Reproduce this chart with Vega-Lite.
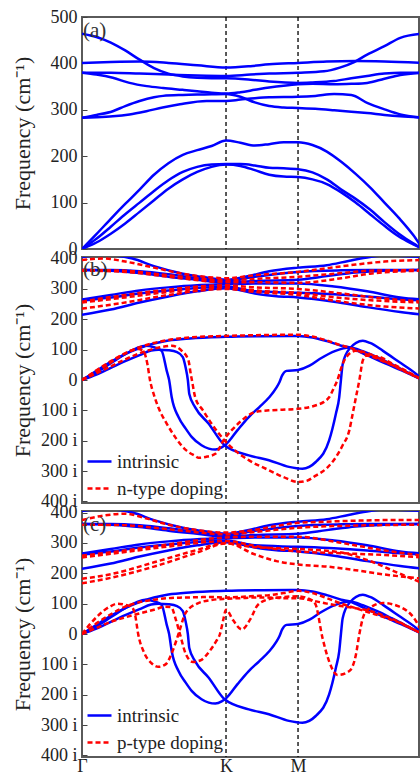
{
"$schema":"https://vega.github.io/schema/vega-lite/v6.json",
"background":"white",
"padding":{"left":10,"top":7,"right":0,"bottom":0},
"bounds":"flush",
"spacing":8,
"config":{
"font":"Liberation Serif",
"view":{"stroke":"#5a5a5a","strokeWidth":2},
"axis":{"labelFont":"Liberation Serif","titleFont":"Liberation Serif","labelFontSize":18,"titleFontSize":22,"titleFontWeight":"normal","labelColor":"#222","titleColor":"#222","domain":false,"grid":false,"tickColor":"#444","tickSize":-5,"labelPadding":10,"minExtent":45,"maxExtent":45,"titlePadding":3,"labelOverlap":false,"labelFlush":false},
"axisY":{"labelOverlap":false},
"axisLeft":{"labelOverlap":false},
"axisQuantitative":{"labelOverlap":false},
"legend":{"orient":"bottom-left","offset":4,"labelFont":"Liberation Serif","labelFontSize":19,"labelColor":"#222","symbolType":"stroke","symbolSize":576,"symbolStrokeWidth":2.5,"rowPadding":3,"padding":0,"labelOffset":4}
},
"datasets":{
"a":[
{"k":1,"x":0,"y":0},{"k":1,"x":0.1,"y":32},{"k":1,"x":0.2,"y":65},{"k":1,"x":0.3,"y":97},{"k":1,"x":0.4,"y":128},{"k":1,"x":0.5,"y":160},{"k":1,"x":0.6,"y":185},{"k":1,"x":0.7,"y":203},{"k":1,"x":0.8,"y":213},{"k":1,"x":0.9,"y":222},{"k":1,"x":1,"y":234},{"k":1,"x":1.1,"y":229},{"k":1,"x":1.2,"y":223},{"k":1,"x":1.3,"y":226},{"k":1,"x":1.4,"y":230},{"k":1,"x":1.5,"y":230},{"k":1,"x":1.6,"y":224},{"k":1,"x":1.7,"y":210},{"k":1,"x":1.8,"y":188},{"k":1,"x":1.9,"y":162},{"k":1,"x":2,"y":133},{"k":1,"x":2.1,"y":100},{"k":1,"x":2.2,"y":67},{"k":1,"x":2.3,"y":30},{"k":1,"x":2.366,"y":0},
{"k":2,"x":0,"y":0},{"k":2,"x":0.1,"y":22},{"k":2,"x":0.2,"y":48},{"k":2,"x":0.3,"y":75},{"k":2,"x":0.4,"y":100},{"k":2,"x":0.5,"y":125},{"k":2,"x":0.6,"y":148},{"k":2,"x":0.7,"y":166},{"k":2,"x":0.8,"y":177},{"k":2,"x":0.9,"y":182},{"k":2,"x":1,"y":183},{"k":2,"x":1.1,"y":183},{"k":2,"x":1.2,"y":180},{"k":2,"x":1.3,"y":175},{"k":2,"x":1.4,"y":174},{"k":2,"x":1.5,"y":172},{"k":2,"x":1.6,"y":165},{"k":2,"x":1.7,"y":150},{"k":2,"x":1.8,"y":128},{"k":2,"x":1.9,"y":108},{"k":2,"x":2,"y":85},{"k":2,"x":2.1,"y":58},{"k":2,"x":2.2,"y":33},{"k":2,"x":2.3,"y":12},{"k":2,"x":2.366,"y":0},
{"k":3,"x":0,"y":0},{"k":3,"x":0.1,"y":14},{"k":3,"x":0.2,"y":33},{"k":3,"x":0.3,"y":55},{"k":3,"x":0.4,"y":80},{"k":3,"x":0.5,"y":105},{"k":3,"x":0.6,"y":130},{"k":3,"x":0.7,"y":150},{"k":3,"x":0.8,"y":166},{"k":3,"x":0.9,"y":177},{"k":3,"x":1,"y":182},{"k":3,"x":1.1,"y":179},{"k":3,"x":1.2,"y":170},{"k":3,"x":1.3,"y":160},{"k":3,"x":1.4,"y":156},{"k":3,"x":1.5,"y":155},{"k":3,"x":1.6,"y":150},{"k":3,"x":1.7,"y":140},{"k":3,"x":1.8,"y":122},{"k":3,"x":1.9,"y":100},{"k":3,"x":2,"y":75},{"k":3,"x":2.1,"y":50},{"k":3,"x":2.2,"y":27},{"k":3,"x":2.3,"y":10},{"k":3,"x":2.366,"y":0},
{"k":4,"x":0,"y":464},{"k":4,"x":0.1,"y":457},{"k":4,"x":0.2,"y":445},{"k":4,"x":0.3,"y":428},{"k":4,"x":0.4,"y":408},{"k":4,"x":0.5,"y":390},{"k":4,"x":0.6,"y":378},{"k":4,"x":0.7,"y":372},{"k":4,"x":0.8,"y":369},{"k":4,"x":0.9,"y":368},{"k":4,"x":1,"y":368},{"k":4,"x":1.17,"y":365},{"k":4,"x":1.3,"y":361},{"k":4,"x":1.5,"y":358},{"k":4,"x":1.6,"y":359},{"k":4,"x":1.75,"y":362},{"k":4,"x":1.87,"y":368},{"k":4,"x":1.98,"y":373},{"k":4,"x":2.1,"y":378},{"k":4,"x":2.21,"y":380},{"k":4,"x":2.366,"y":380},
{"k":5,"x":0,"y":401},{"k":5,"x":0.2,"y":403},{"k":5,"x":0.4,"y":404},{"k":5,"x":0.6,"y":401},{"k":5,"x":0.8,"y":396},{"k":5,"x":1,"y":391},{"k":5,"x":1.17,"y":394},{"k":5,"x":1.3,"y":398},{"k":5,"x":1.5,"y":401},{"k":5,"x":1.7,"y":404},{"k":5,"x":1.9,"y":405},{"k":5,"x":2.1,"y":404},{"k":5,"x":2.366,"y":401},
{"k":6,"x":0,"y":380},{"k":6,"x":0.2,"y":380},{"k":6,"x":0.4,"y":378},{"k":6,"x":0.6,"y":376},{"k":6,"x":0.8,"y":374},{"k":6,"x":1,"y":373},{"k":6,"x":1.17,"y":376},{"k":6,"x":1.3,"y":378},{"k":6,"x":1.5,"y":380},{"k":6,"x":1.68,"y":383},{"k":6,"x":1.79,"y":391},{"k":6,"x":1.89,"y":403},{"k":6,"x":1.98,"y":419},{"k":6,"x":2.1,"y":437},{"k":6,"x":2.21,"y":455},{"k":6,"x":2.366,"y":464},
{"k":7,"x":0,"y":380},{"k":7,"x":0.1,"y":376},{"k":7,"x":0.214,"y":369},{"k":7,"x":0.33,"y":358},{"k":7,"x":0.45,"y":351},{"k":7,"x":0.563,"y":347},{"k":7,"x":0.7,"y":343},{"k":7,"x":0.8,"y":340},{"k":7,"x":0.9,"y":337},{"k":7,"x":1,"y":335},{"k":7,"x":1.1,"y":338},{"k":7,"x":1.2,"y":343},{"k":7,"x":1.3,"y":348},{"k":7,"x":1.4,"y":352},{"k":7,"x":1.5,"y":355},{"k":7,"x":1.6,"y":356},{"k":7,"x":1.75,"y":355},{"k":7,"x":1.87,"y":356},{"k":7,"x":1.98,"y":358},{"k":7,"x":2.1,"y":367},{"k":7,"x":2.21,"y":375},{"k":7,"x":2.366,"y":380},
{"k":8,"x":0,"y":283},{"k":8,"x":0.1,"y":289},{"k":8,"x":0.214,"y":297},{"k":8,"x":0.3,"y":308},{"k":8,"x":0.4,"y":319},{"k":8,"x":0.5,"y":327},{"k":8,"x":0.563,"y":330},{"k":8,"x":0.7,"y":332},{"k":8,"x":0.85,"y":333},{"k":8,"x":1,"y":334},{"k":8,"x":1.1,"y":328},{"k":8,"x":1.2,"y":316},{"k":8,"x":1.3,"y":308},{"k":8,"x":1.4,"y":305},{"k":8,"x":1.5,"y":304},{"k":8,"x":1.62,"y":302},{"k":8,"x":1.75,"y":299},{"k":8,"x":1.87,"y":296},{"k":8,"x":1.98,"y":293},{"k":8,"x":2.1,"y":289},{"k":8,"x":2.21,"y":286},{"k":8,"x":2.366,"y":283},
{"k":9,"x":0,"y":283},{"k":9,"x":0.1,"y":284},{"k":9,"x":0.214,"y":286},{"k":9,"x":0.33,"y":290},{"k":9,"x":0.447,"y":297},{"k":9,"x":0.56,"y":305},{"k":9,"x":0.68,"y":312},{"k":9,"x":0.865,"y":319},{"k":9,"x":1,"y":319},{"k":9,"x":1.1,"y":322},{"k":9,"x":1.2,"y":325},{"k":9,"x":1.3,"y":327},{"k":9,"x":1.5,"y":328},{"k":9,"x":1.62,"y":330},{"k":9,"x":1.75,"y":334},{"k":9,"x":1.87,"y":332},{"k":9,"x":1.98,"y":315},{"k":9,"x":2.1,"y":301},{"k":9,"x":2.21,"y":290},{"k":9,"x":2.366,"y":283}
],
"ib":[
{"k":1,"x":0,"y":0},{"k":1,"x":0.1,"y":25},{"k":1,"x":0.2,"y":55},{"k":1,"x":0.3,"y":85},{"k":1,"x":0.4,"y":105},{"k":1,"x":0.5,"y":120},{"k":1,"x":0.6,"y":130},{"k":1,"x":0.75,"y":137},{"k":1,"x":1,"y":142},{"k":1,"x":1.25,"y":144},{"k":1,"x":1.5,"y":145},{"k":1,"x":1.6,"y":140},{"k":1,"x":1.7,"y":128},{"k":1,"x":1.8,"y":113},{"k":1,"x":1.86,"y":107},{"k":1,"x":1.95,"y":88},{"k":1,"x":2.05,"y":66},{"k":1,"x":2.15,"y":46},{"k":1,"x":2.25,"y":25},{"k":1,"x":2.366,"y":0},
{"k":2,"x":0,"y":0},{"k":2,"x":0.1,"y":30},{"k":2,"x":0.2,"y":60},{"k":2,"x":0.3,"y":85},{"k":2,"x":0.38,"y":105},{"k":2,"x":0.44,"y":113},{"k":2,"x":0.5,"y":108},{"k":2,"x":0.553,"y":96},{"k":2,"x":0.588,"y":31},{"k":2,"x":0.605,"y":0},{"k":2,"x":0.623,"y":-57},{"k":2,"x":0.67,"y":-122},{"k":2,"x":0.72,"y":-160},{"k":2,"x":0.763,"y":-188},{"k":2,"x":0.83,"y":-215},{"k":2,"x":0.88,"y":-226},{"k":2,"x":0.926,"y":-229},{"k":2,"x":0.97,"y":-222},{"k":2,"x":1,"y":-212},{"k":2,"x":1.08,"y":-165},{"k":2,"x":1.158,"y":-122},{"k":2,"x":1.23,"y":-90},{"k":2,"x":1.3,"y":-57},{"k":2,"x":1.35,"y":-25},{"k":2,"x":1.37,"y":-8},{"k":2,"x":1.39,"y":15},{"k":2,"x":1.42,"y":30},{"k":2,"x":1.5,"y":33},{"k":2,"x":1.58,"y":47},{"k":2,"x":1.65,"y":69},{"k":2,"x":1.76,"y":96},{"k":2,"x":1.86,"y":107},{"k":2,"x":1.95,"y":95},{"k":2,"x":2.05,"y":75},{"k":2,"x":2.15,"y":52},{"k":2,"x":2.25,"y":28},{"k":2,"x":2.366,"y":0},
{"k":3,"x":0,"y":0},{"k":3,"x":0.1,"y":18},{"k":3,"x":0.2,"y":40},{"k":3,"x":0.3,"y":62},{"k":3,"x":0.4,"y":82},{"k":3,"x":0.48,"y":97},{"k":3,"x":0.53,"y":100},{"k":3,"x":0.6,"y":98},{"k":3,"x":0.66,"y":92},{"k":3,"x":0.7,"y":75},{"k":3,"x":0.72,"y":40},{"k":3,"x":0.735,"y":0},{"k":3,"x":0.745,"y":-46},{"k":3,"x":0.786,"y":-90},{"k":3,"x":0.88,"y":-144},{"k":3,"x":0.99,"y":-215},{"k":3,"x":1.158,"y":-248},{"k":3,"x":1.298,"y":-264},{"k":3,"x":1.437,"y":-286},{"k":3,"x":1.53,"y":-292},{"k":3,"x":1.623,"y":-270},{"k":3,"x":1.716,"y":-199},{"k":3,"x":1.763,"y":-111},{"k":3,"x":1.786,"y":-57},{"k":3,"x":1.798,"y":0},{"k":3,"x":1.81,"y":52},{"k":3,"x":1.856,"y":102},{"k":3,"x":1.95,"y":129},{"k":3,"x":2,"y":122},{"k":3,"x":2.09,"y":96},{"k":3,"x":2.2,"y":60},{"k":3,"x":2.32,"y":20},{"k":3,"x":2.366,"y":0},
{"k":4,"x":0,"y":405},{"k":4,"x":0.1,"y":410},{"k":4,"x":0.2,"y":410},{"k":4,"x":0.35,"y":400},{"k":4,"x":0.5,"y":375},{"k":4,"x":0.7,"y":350},{"k":4,"x":0.85,"y":338},{"k":4,"x":1,"y":330},{"k":4,"x":1.15,"y":342},{"k":4,"x":1.3,"y":358},{"k":4,"x":1.5,"y":370},{"k":4,"x":1.7,"y":378},{"k":4,"x":1.85,"y":392},{"k":4,"x":2,"y":405},{"k":4,"x":2.1,"y":410},{"k":4,"x":2.366,"y":405},
{"k":5,"x":0,"y":362},{"k":5,"x":0.2,"y":362},{"k":5,"x":0.4,"y":358},{"k":5,"x":0.6,"y":348},{"k":5,"x":0.8,"y":335},{"k":5,"x":1,"y":325},{"k":5,"x":1.2,"y":340},{"k":5,"x":1.5,"y":356},{"k":5,"x":1.8,"y":361},{"k":5,"x":2,"y":362},{"k":5,"x":2.366,"y":362},
{"k":6,"x":0,"y":362},{"k":6,"x":0.2,"y":360},{"k":6,"x":0.4,"y":352},{"k":6,"x":0.6,"y":340},{"k":6,"x":0.8,"y":330},{"k":6,"x":1,"y":320},{"k":6,"x":1.2,"y":326},{"k":6,"x":1.5,"y":330},{"k":6,"x":1.7,"y":342},{"k":6,"x":1.9,"y":354},{"k":6,"x":2.1,"y":360},{"k":6,"x":2.366,"y":362},
{"k":7,"x":0,"y":265},{"k":7,"x":0.2,"y":280},{"k":7,"x":0.4,"y":295},{"k":7,"x":0.6,"y":305},{"k":7,"x":0.8,"y":312},{"k":7,"x":1,"y":315},{"k":7,"x":1.2,"y":318},{"k":7,"x":1.5,"y":318},{"k":7,"x":1.75,"y":308},{"k":7,"x":1.98,"y":292},{"k":7,"x":2.21,"y":272},{"k":7,"x":2.366,"y":265},
{"k":8,"x":0,"y":262},{"k":8,"x":0.2,"y":272},{"k":8,"x":0.4,"y":285},{"k":8,"x":0.6,"y":295},{"k":8,"x":0.8,"y":303},{"k":8,"x":1,"y":308},{"k":8,"x":1.2,"y":292},{"k":8,"x":1.5,"y":287},{"k":8,"x":1.75,"y":282},{"k":8,"x":1.98,"y":275},{"k":8,"x":2.21,"y":266},{"k":8,"x":2.366,"y":262},
{"k":9,"x":0,"y":215},{"k":9,"x":0.2,"y":232},{"k":9,"x":0.4,"y":255},{"k":9,"x":0.6,"y":275},{"k":9,"x":0.8,"y":292},{"k":9,"x":1,"y":302},{"k":9,"x":1.2,"y":285},{"k":9,"x":1.35,"y":276},{"k":9,"x":1.5,"y":272},{"k":9,"x":1.75,"y":258},{"k":9,"x":1.98,"y":240},{"k":9,"x":2.21,"y":224},{"k":9,"x":2.366,"y":215}
],
"n":[
{"k":1,"x":0,"y":0},{"k":1,"x":0.1,"y":28},{"k":1,"x":0.2,"y":58},{"k":1,"x":0.3,"y":88},{"k":1,"x":0.4,"y":108},{"k":1,"x":0.5,"y":122},{"k":1,"x":0.6,"y":132},{"k":1,"x":0.75,"y":140},{"k":1,"x":1,"y":145},{"k":1,"x":1.25,"y":148},{"k":1,"x":1.5,"y":149},{"k":1,"x":1.6,"y":143},{"k":1,"x":1.7,"y":130},{"k":1,"x":1.8,"y":114},{"k":1,"x":1.86,"y":106},{"k":1,"x":1.95,"y":90},{"k":1,"x":2.05,"y":70},{"k":1,"x":2.15,"y":50},{"k":1,"x":2.25,"y":27},{"k":1,"x":2.366,"y":0},
{"k":2,"x":0,"y":0},{"k":2,"x":0.1,"y":32},{"k":2,"x":0.2,"y":62},{"k":2,"x":0.3,"y":88},{"k":2,"x":0.39,"y":102},{"k":2,"x":0.43,"y":92},{"k":2,"x":0.455,"y":50},{"k":2,"x":0.472,"y":0},{"k":2,"x":0.5,"y":-50},{"k":2,"x":0.53,"y":-90},{"k":2,"x":0.59,"y":-145},{"k":2,"x":0.647,"y":-188},{"k":2,"x":0.72,"y":-230},{"k":2,"x":0.786,"y":-250},{"k":2,"x":0.81,"y":-256},{"k":2,"x":0.87,"y":-252},{"k":2,"x":0.926,"y":-243},{"k":2,"x":0.99,"y":-193},{"k":2,"x":1.05,"y":-160},{"k":2,"x":1.11,"y":-133},{"k":2,"x":1.2,"y":-106},{"k":2,"x":1.3,"y":-100},{"k":2,"x":1.39,"y":-98},{"k":2,"x":1.5,"y":-95},{"k":2,"x":1.62,"y":-84},{"k":2,"x":1.68,"y":-72},{"k":2,"x":1.716,"y":-57},{"k":2,"x":1.75,"y":-25},{"k":2,"x":1.774,"y":0},{"k":2,"x":1.8,"y":40},{"k":2,"x":1.833,"y":74},{"k":2,"x":1.9,"y":96},{"k":2,"x":2,"y":85},{"k":2,"x":2.1,"y":62},{"k":2,"x":2.2,"y":38},{"k":2,"x":2.366,"y":0},
{"k":3,"x":0,"y":0},{"k":3,"x":0.1,"y":22},{"k":3,"x":0.2,"y":45},{"k":3,"x":0.3,"y":68},{"k":3,"x":0.4,"y":88},{"k":3,"x":0.5,"y":103},{"k":3,"x":0.6,"y":112},{"k":3,"x":0.623,"y":113},{"k":3,"x":0.693,"y":96},{"k":3,"x":0.74,"y":63},{"k":3,"x":0.755,"y":20},{"k":3,"x":0.763,"y":0},{"k":3,"x":0.786,"y":-57},{"k":3,"x":0.84,"y":-100},{"k":3,"x":0.9,"y":-144},{"k":3,"x":0.99,"y":-199},{"k":3,"x":1.07,"y":-235},{"k":3,"x":1.158,"y":-264},{"k":3,"x":1.298,"y":-297},{"k":3,"x":1.4,"y":-320},{"k":3,"x":1.502,"y":-336},{"k":3,"x":1.56,"y":-332},{"k":3,"x":1.623,"y":-315},{"k":3,"x":1.7,"y":-290},{"k":3,"x":1.763,"y":-254},{"k":3,"x":1.81,"y":-215},{"k":3,"x":1.856,"y":-166},{"k":3,"x":1.88,"y":-110},{"k":3,"x":1.902,"y":-57},{"k":3,"x":1.926,"y":0},{"k":3,"x":1.949,"y":63},{"k":3,"x":1.972,"y":80},{"k":3,"x":2.05,"y":78},{"k":3,"x":2.15,"y":55},{"k":3,"x":2.25,"y":30},{"k":3,"x":2.366,"y":0},
{"k":4,"x":0,"y":395},{"k":4,"x":0.15,"y":400},{"k":4,"x":0.3,"y":390},{"k":4,"x":0.5,"y":370},{"k":4,"x":0.7,"y":350},{"k":4,"x":0.85,"y":340},{"k":4,"x":1,"y":335},{"k":4,"x":1.2,"y":345},{"k":4,"x":1.5,"y":356},{"k":4,"x":1.7,"y":368},{"k":4,"x":1.9,"y":380},{"k":4,"x":2.1,"y":390},{"k":4,"x":2.366,"y":395},
{"k":5,"x":0,"y":362},{"k":5,"x":0.3,"y":360},{"k":5,"x":0.5,"y":350},{"k":5,"x":0.7,"y":340},{"k":5,"x":1,"y":328},{"k":5,"x":1.2,"y":333},{"k":5,"x":1.5,"y":340},{"k":5,"x":1.8,"y":352},{"k":5,"x":2,"y":360},{"k":5,"x":2.366,"y":362},
{"k":6,"x":0,"y":360},{"k":6,"x":0.3,"y":356},{"k":6,"x":0.6,"y":340},{"k":6,"x":1,"y":322},{"k":6,"x":1.2,"y":322},{"k":6,"x":1.5,"y":320},{"k":6,"x":1.8,"y":335},{"k":6,"x":2,"y":350},{"k":6,"x":2.366,"y":360},
{"k":7,"x":0,"y":258},{"k":7,"x":0.3,"y":280},{"k":7,"x":0.6,"y":298},{"k":7,"x":1,"y":312},{"k":7,"x":1.2,"y":305},{"k":7,"x":1.5,"y":300},{"k":7,"x":1.8,"y":285},{"k":7,"x":2.1,"y":268},{"k":7,"x":2.366,"y":258},
{"k":8,"x":0,"y":255},{"k":8,"x":0.3,"y":272},{"k":8,"x":0.6,"y":290},{"k":8,"x":1,"y":306},{"k":8,"x":1.2,"y":295},{"k":8,"x":1.5,"y":287},{"k":8,"x":1.8,"y":270},{"k":8,"x":2.1,"y":260},{"k":8,"x":2.366,"y":255},
{"k":9,"x":0,"y":235},{"k":9,"x":0.3,"y":255},{"k":9,"x":0.6,"y":280},{"k":9,"x":1,"y":300},{"k":9,"x":1.2,"y":290},{"k":9,"x":1.5,"y":280},{"k":9,"x":1.8,"y":258},{"k":9,"x":2.1,"y":242},{"k":9,"x":2.366,"y":235}
],
"p":[
{"k":1,"x":0,"y":0},{"k":1,"x":0.1,"y":35},{"k":1,"x":0.2,"y":65},{"k":1,"x":0.3,"y":90},{"k":1,"x":0.4,"y":105},{"k":1,"x":0.5,"y":113},{"k":1,"x":0.6,"y":118},{"k":1,"x":0.7,"y":120},{"k":1,"x":0.8,"y":121},{"k":1,"x":0.9,"y":122},{"k":1,"x":1,"y":120},{"k":1,"x":1.1,"y":122},{"k":1,"x":1.2,"y":125},{"k":1,"x":1.3,"y":128},{"k":1,"x":1.4,"y":135},{"k":1,"x":1.5,"y":142},{"k":1,"x":1.6,"y":135},{"k":1,"x":1.7,"y":118},{"k":1,"x":1.8,"y":100},{"k":1,"x":1.9,"y":85},{"k":1,"x":2,"y":70},{"k":1,"x":2.1,"y":55},{"k":1,"x":2.2,"y":38},{"k":1,"x":2.3,"y":15},{"k":1,"x":2.366,"y":0},
{"k":2,"x":0,"y":0},{"k":2,"x":0.1,"y":55},{"k":2,"x":0.2,"y":92},{"k":2,"x":0.25,"y":100},{"k":2,"x":0.3,"y":96},{"k":2,"x":0.342,"y":91},{"k":2,"x":0.37,"y":60},{"k":2,"x":0.39,"y":0},{"k":2,"x":0.43,"y":-60},{"k":2,"x":0.48,"y":-95},{"k":2,"x":0.53,"y":-108},{"k":2,"x":0.58,"y":-100},{"k":2,"x":0.63,"y":-55},{"k":2,"x":0.67,"y":0},{"k":2,"x":0.72,"y":70},{"k":2,"x":0.8,"y":100},{"k":2,"x":0.9,"y":112},{"k":2,"x":1,"y":116},{"k":2,"x":1.1,"y":118},{"k":2,"x":1.2,"y":120},{"k":2,"x":1.3,"y":120},{"k":2,"x":1.4,"y":118},{"k":2,"x":1.5,"y":118},{"k":2,"x":1.6,"y":110},{"k":2,"x":1.7,"y":100},{"k":2,"x":1.8,"y":92},{"k":2,"x":1.9,"y":85},{"k":2,"x":2,"y":76},{"k":2,"x":2.1,"y":60},{"k":2,"x":2.2,"y":40},{"k":2,"x":2.3,"y":15},{"k":2,"x":2.366,"y":0},
{"k":3,"x":0,"y":0},{"k":3,"x":0.1,"y":20},{"k":3,"x":0.2,"y":40},{"k":3,"x":0.3,"y":55},{"k":3,"x":0.4,"y":68},{"k":3,"x":0.5,"y":80},{"k":3,"x":0.58,"y":90},{"k":3,"x":0.62,"y":88},{"k":3,"x":0.65,"y":50},{"k":3,"x":0.68,"y":0},{"k":3,"x":0.72,"y":-65},{"k":3,"x":0.77,"y":-92},{"k":3,"x":0.83,"y":-85},{"k":3,"x":0.88,"y":-60},{"k":3,"x":0.93,"y":-25},{"k":3,"x":0.958,"y":0},{"k":3,"x":0.98,"y":45},{"k":3,"x":1,"y":80},{"k":3,"x":1.05,"y":45},{"k":3,"x":1.11,"y":15},{"k":3,"x":1.17,"y":50},{"k":3,"x":1.22,"y":95},{"k":3,"x":1.3,"y":115},{"k":3,"x":1.4,"y":122},{"k":3,"x":1.5,"y":124},{"k":3,"x":1.6,"y":110},{"k":3,"x":1.623,"y":96},{"k":3,"x":1.67,"y":-13},{"k":3,"x":1.716,"y":-90},{"k":3,"x":1.774,"y":-135},{"k":3,"x":1.856,"y":-122},{"k":3,"x":1.902,"y":-68},{"k":3,"x":1.926,"y":0},{"k":3,"x":1.95,"y":52},{"k":3,"x":1.97,"y":74},{"k":3,"x":2.09,"y":102},{"k":3,"x":2.2,"y":91},{"k":3,"x":2.32,"y":42},{"k":3,"x":2.366,"y":0},
{"k":4,"x":0,"y":375},{"k":4,"x":0.15,"y":390},{"k":4,"x":0.3,"y":396},{"k":4,"x":0.45,"y":380},{"k":4,"x":0.6,"y":360},{"k":4,"x":0.8,"y":342},{"k":4,"x":1,"y":334},{"k":4,"x":1.2,"y":343},{"k":4,"x":1.35,"y":356},{"k":4,"x":1.5,"y":366},{"k":4,"x":1.7,"y":370},{"k":4,"x":1.9,"y":373},{"k":4,"x":2.1,"y":375},{"k":4,"x":2.366,"y":375},
{"k":5,"x":0,"y":360},{"k":5,"x":0.3,"y":358},{"k":5,"x":0.5,"y":350},{"k":5,"x":0.7,"y":340},{"k":5,"x":1,"y":328},{"k":5,"x":1.2,"y":336},{"k":5,"x":1.5,"y":350},{"k":5,"x":1.8,"y":356},{"k":5,"x":2,"y":358},{"k":5,"x":2.366,"y":360},
{"k":6,"x":0,"y":258},{"k":6,"x":0.3,"y":275},{"k":6,"x":0.6,"y":295},{"k":6,"x":1,"y":318},{"k":6,"x":1.2,"y":320},{"k":6,"x":1.5,"y":320},{"k":6,"x":1.8,"y":300},{"k":6,"x":2.1,"y":275},{"k":6,"x":2.366,"y":258},
{"k":7,"x":0,"y":252},{"k":7,"x":0.3,"y":270},{"k":7,"x":0.6,"y":288},{"k":7,"x":1,"y":306},{"k":7,"x":1.2,"y":290},{"k":7,"x":1.5,"y":272},{"k":7,"x":1.8,"y":266},{"k":7,"x":2.1,"y":260},{"k":7,"x":2.366,"y":252},
{"k":8,"x":0,"y":182},{"k":8,"x":0.2,"y":197},{"k":8,"x":0.5,"y":236},{"k":8,"x":0.8,"y":277},{"k":8,"x":1,"y":300},{"k":8,"x":1.2,"y":262},{"k":8,"x":1.35,"y":240},{"k":8,"x":1.5,"y":229},{"k":8,"x":1.7,"y":222},{"k":8,"x":1.9,"y":210},{"k":8,"x":2.1,"y":196},{"k":8,"x":2.366,"y":182},
{"k":9,"x":0,"y":167},{"k":9,"x":0.2,"y":185},{"k":9,"x":0.5,"y":222},{"k":9,"x":0.8,"y":268},{"k":9,"x":1,"y":298},{"k":9,"x":1.2,"y":286},{"k":9,"x":1.5,"y":280},{"k":9,"x":1.8,"y":268},{"k":9,"x":2,"y":240},{"k":9,"x":2.2,"y":200},{"k":9,"x":2.366,"y":167}
],
"kv":[{"x":1},{"x":1.5}]
},
"resolve":{"scale":{"color":"independent","y":"independent"},"legend":{"color":"independent"}},
"vconcat":[
{"width":337,"height":232,
"layer":[
{"data":{"name":"kv"},"mark":{"type":"rule","strokeDash":[4,3],"color":"black","strokeWidth":1.3},"encoding":{"x":{"field":"x","type":"quantitative","scale":{"domain":[0,2.34],"nice":false},"axis":null}}},
{"data":{"name":"a"},"mark":{"type":"line","interpolate":"monotone","strokeWidth":2.5,"color":"#0000ff","clip":true},"encoding":{"x":{"field":"x","type":"quantitative","scale":{"domain":[0,2.34],"nice":false},"axis":null},"y":{"field":"y","type":"quantitative","scale":{"domain":[0,500],"nice":false},"axis":{"values":[0,100,200,300,400,500],"labelOverlap":false,"title":"Frequency (cm⁻¹)"}},"detail":{"field":"k"}}},
{"data":{"values":[{"x":0,"y":470,"t":"(a)"}]},"mark":{"type":"text","align":"left","baseline":"middle","dx":1,"fontSize":21,"font":"Liberation Serif","color":"#333"},"encoding":{"x":{"field":"x","type":"quantitative"},"y":{"field":"y","type":"quantitative","axis":{"values":[0,100,200,300,400,500],"labelOverlap":false,"title":"Frequency (cm⁻¹)"}},"text":{"field":"t"}}}
]},
{"width":337,"height":246,
"layer":[
{"data":{"name":"kv"},"mark":{"type":"rule","strokeDash":[4,3],"color":"black","strokeWidth":1.3},"encoding":{"x":{"field":"x","type":"quantitative","scale":{"domain":[0,2.34],"nice":false},"axis":null}}},
{"mark":{"type":"rule","strokeDash":[4,3],"color":"black","strokeWidth":1.3},"encoding":{"y":{"datum":0,"type":"quantitative","axis":{"values":[-400,-300,-200,-100,0,100,200,300,400],"labelOverlap":false,"labelExpr":"datum.value < 0 ? (-datum.value) + ' i' : datum.value","title":"Frequency (cm⁻¹)"}}}},
{"data":{"name":"ib"},"mark":{"type":"line","interpolate":"monotone","strokeWidth":2.5,"clip":true},"encoding":{"x":{"field":"x","type":"quantitative","scale":{"domain":[0,2.34],"nice":false},"axis":null},"y":{"field":"y","type":"quantitative","scale":{"domain":[-405,405],"nice":false},"axis":{"values":[-400,-300,-200,-100,0,100,200,300,400],"labelOverlap":false,"labelExpr":"datum.value < 0 ? (-datum.value) + ' i' : datum.value","title":"Frequency (cm⁻¹)"}},"detail":{"field":"k"},"color":{"datum":"intrinsic","scale":{"domain":["intrinsic","n-type doping"],"range":["#0000ff","#ff0000"]},"legend":{"title":null,"labelFont":"Liberation Serif","encode":{"symbols":{"update":{"strokeDash":{"signal":"datum.label === 'intrinsic' ? [1, 0] : [5, 3]"}}}}}}}},
{"data":{"name":"n"},"mark":{"type":"line","interpolate":"monotone","strokeWidth":2.5,"strokeDash":[5,3],"clip":true},"encoding":{"x":{"field":"x","type":"quantitative"},"y":{"field":"y","type":"quantitative","axis":{"values":[-400,-300,-200,-100,0,100,200,300,400],"labelOverlap":false,"labelExpr":"datum.value < 0 ? (-datum.value) + ' i' : datum.value","title":"Frequency (cm⁻¹)"}},"detail":{"field":"k"},"color":{"datum":"n-type doping"}}},
{"data":{"values":[{"x":0,"y":362,"t":"(b)"}]},"mark":{"type":"text","align":"left","baseline":"middle","dx":1,"fontSize":21,"font":"Liberation Serif","color":"#333"},"encoding":{"x":{"field":"x","type":"quantitative"},"y":{"field":"y","type":"quantitative","axis":{"values":[-400,-300,-200,-100,0,100,200,300,400],"labelOverlap":false,"labelExpr":"datum.value < 0 ? (-datum.value) + ' i' : datum.value","title":"Frequency (cm⁻¹)"}},"text":{"field":"t"}}}
]},
{"width":337,"height":246,
"layer":[
{"data":{"name":"kv"},"mark":{"type":"rule","strokeDash":[4,3],"color":"black","strokeWidth":1.3},"encoding":{"x":{"field":"x","type":"quantitative","scale":{"domain":[0,2.34],"nice":false},"axis":{"values":[0,1,1.5],"labelExpr":"datum.value == 0 ? 'Γ' : datum.value == 1 ? 'K' : 'M'","title":null,"ticks":false,"labelPadding":0,"labelFontSize":18}}}},
{"mark":{"type":"rule","strokeDash":[4,3],"color":"black","strokeWidth":1.3},"encoding":{"y":{"datum":0,"type":"quantitative","axis":{"values":[-400,-300,-200,-100,0,100,200,300,400],"labelOverlap":false,"labelExpr":"datum.value < 0 ? (-datum.value) + ' i' : datum.value","title":"Frequency (cm⁻¹)"}}}},
{"data":{"name":"ib"},"mark":{"type":"line","interpolate":"monotone","strokeWidth":2.5,"clip":true},"encoding":{"x":{"field":"x","type":"quantitative"},"y":{"field":"y","type":"quantitative","scale":{"domain":[-405,405],"nice":false},"axis":{"values":[-400,-300,-200,-100,0,100,200,300,400],"labelOverlap":false,"labelExpr":"datum.value < 0 ? (-datum.value) + ' i' : datum.value","title":"Frequency (cm⁻¹)"}},"detail":{"field":"k"},"color":{"datum":"intrinsic","scale":{"domain":["intrinsic","p-type doping"],"range":["#0000ff","#ff0000"]},"legend":{"title":null,"labelFont":"Liberation Serif","encode":{"symbols":{"update":{"strokeDash":{"signal":"datum.label === 'intrinsic' ? [1, 0] : [5, 3]"}}}}}}}},
{"data":{"name":"p"},"mark":{"type":"line","interpolate":"monotone","strokeWidth":2.5,"strokeDash":[5,3],"clip":true},"encoding":{"x":{"field":"x","type":"quantitative"},"y":{"field":"y","type":"quantitative","axis":{"values":[-400,-300,-200,-100,0,100,200,300,400],"labelOverlap":false,"labelExpr":"datum.value < 0 ? (-datum.value) + ' i' : datum.value","title":"Frequency (cm⁻¹)"}},"detail":{"field":"k"},"color":{"datum":"p-type doping"}}},
{"data":{"values":[{"x":0,"y":358,"t":"(c)"}]},"mark":{"type":"text","align":"left","baseline":"middle","dx":1,"fontSize":21,"font":"Liberation Serif","color":"#333"},"encoding":{"x":{"field":"x","type":"quantitative"},"y":{"field":"y","type":"quantitative","axis":{"values":[-400,-300,-200,-100,0,100,200,300,400],"labelOverlap":false,"labelExpr":"datum.value < 0 ? (-datum.value) + ' i' : datum.value","title":"Frequency (cm⁻¹)"}},"text":{"field":"t"}}}
]}
]
}
